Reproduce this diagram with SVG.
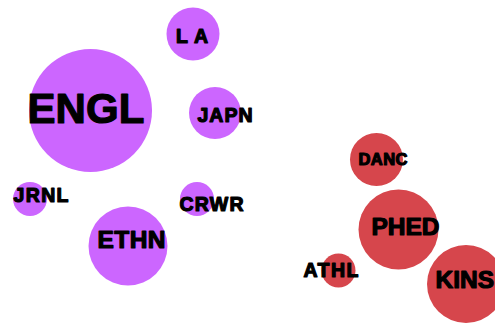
<svg xmlns="http://www.w3.org/2000/svg" width="495" height="325" viewBox="0 0 495 325">
<style>
.p{fill:#cc66ff}
.r{fill:#d6464c}
text{font-family:"Liberation Sans",Arial,sans-serif;font-weight:bold;fill:#000;stroke:#000;stroke-width:1.2;stroke-linejoin:round}
</style>
<rect width="495" height="325" fill="#fff"/>
<g id="connectors"/>
<g id="ENGL"><circle class="p" cx="90.5" cy="110.5" r="61.5"/><text x="27.5" y="123" font-size="42" textLength="117">ENGL</text></g>
<g id="LA"><circle class="p" cx="193" cy="34" r="26.5"/><text x="176" y="43" font-size="19.5" textLength="32">L A</text></g>
<g id="JAPN"><circle class="p" cx="215" cy="113" r="26"/><text x="197.5" y="122" font-size="19.5" textLength="55">JAPN</text></g>
<g id="JRNL"><circle class="p" cx="30" cy="199" r="17"/><text x="13.5" y="201.5" font-size="19.5" textLength="55">JRNL</text></g>
<g id="CRWR"><circle class="p" cx="197" cy="199" r="17"/><text x="179.5" y="211" font-size="19.5" textLength="64">CRWR</text></g>
<g id="ETHN"><circle class="p" cx="128" cy="246" r="39.5"/><text x="97.5" y="248" font-size="24.5" textLength="68">ETHN</text></g>
<g id="DANC"><circle class="r" cx="376.5" cy="159.5" r="26.5"/><text x="358.5" y="165" font-size="16.5" textLength="49">DANC</text></g>
<g id="PHED"><circle class="r" cx="398.5" cy="229.5" r="40"/><text x="371.5" y="235" font-size="24.5" textLength="68">PHED</text></g>
<g id="ATHL"><circle class="r" cx="338.5" cy="270.5" r="17"/><text x="303.5" y="277" font-size="19.5" textLength="55">ATHL</text></g>
<g id="KINS"><circle class="r" cx="466" cy="284" r="39"/><text x="435.5" y="288" font-size="24.5">KINS</text></g>
</svg>
